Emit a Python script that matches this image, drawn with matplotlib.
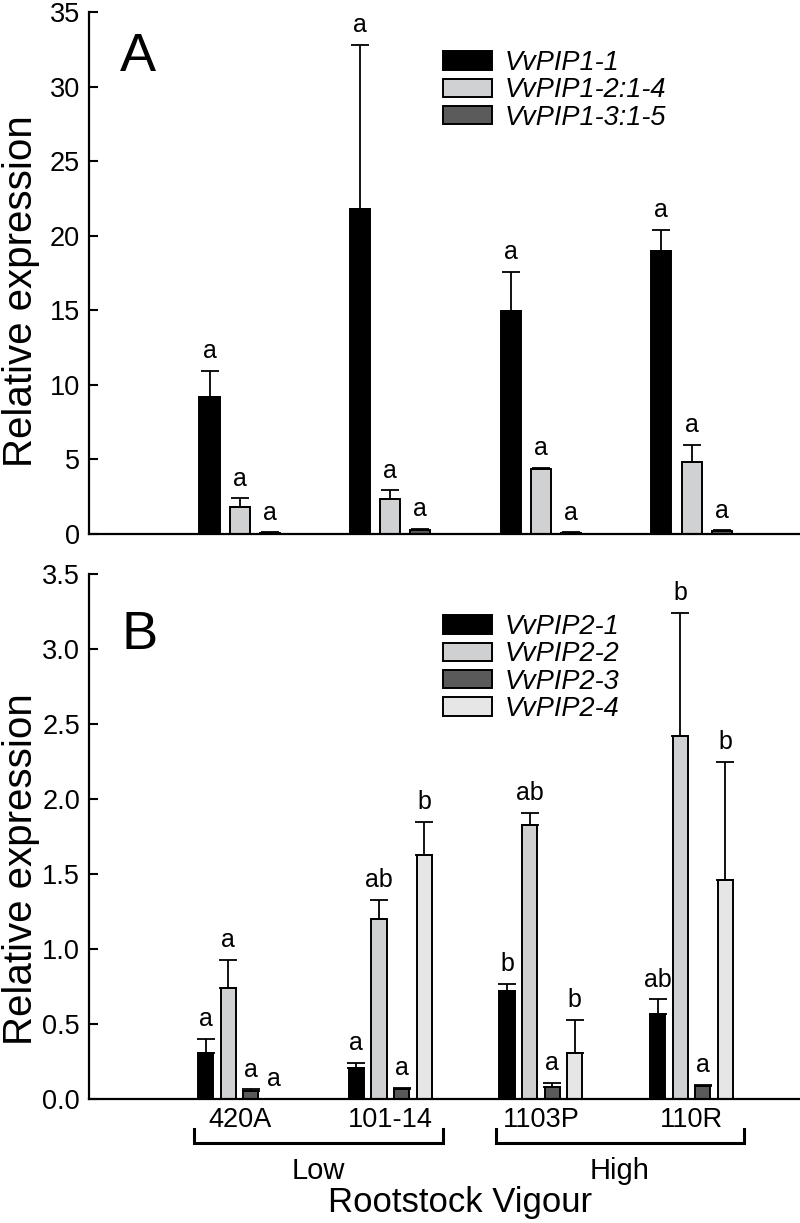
import matplotlib
matplotlib.use('Agg')
import matplotlib.pyplot as plt
import numpy as np
from matplotlib.patches import Patch
from matplotlib.ticker import FormatStrFormatter, MultipleLocator
import matplotlib.transforms as mtransforms

plt.rcParams['font.family'] = ['Liberation Sans', 'DejaVu Sans']

# ---------------- data ----------------
rootstocks = ['420A', '101-14', '1103P', '110R']
vigour_labels = ['Low', 'High']
vigour_members = [[0, 1], [2, 3]]

pip1_genes = ['VvPIP1-1', 'VvPIP1-2:1-4', 'VvPIP1-3:1-5']
pip1_mean = [
    [9.2, 21.8, 14.95, 19.0],
    [1.8, 2.35, 4.35, 4.8],
    [0.10, 0.30, 0.10, 0.20],
]
pip1_err = [
    [1.75, 11.0, 2.65, 1.4],
    [0.6, 0.6, 0.1, 1.2],
    [0.03, 0.05, 0.03, 0.05],
]
pip1_letters = [
    ['a', 'a', 'a', 'a'],
    ['a', 'a', 'a', 'a'],
    ['a', 'a', 'a', 'a'],
]

pip2_genes = ['VvPIP2-1', 'VvPIP2-2', 'VvPIP2-3', 'VvPIP2-4']
pip2_mean = [
    [0.305, 0.21, 0.72, 0.565],
    [0.74, 1.20, 1.83, 2.42],
    [0.055, 0.07, 0.082, 0.089],
    [0.0, 1.63, 0.31, 1.46],
]
pip2_err = [
    [0.095, 0.03, 0.047, 0.10],
    [0.19, 0.13, 0.08, 0.82],
    [0.01, 0.005, 0.028, 0.005],
    [0.0, 0.22, 0.22, 0.79],
]
pip2_letters = [
    ['a', 'a', 'b', 'ab'],
    ['a', 'ab', 'ab', 'b'],
    ['a', 'a', 'a', 'a'],
    ['a', 'b', 'b', 'b'],
]

# ---------------- styles ----------------
pip1_colors = ['#000000', '#d0d1d3', '#5b5b5b']
pip2_colors = ['#000000', '#cfd0d2', '#5a5a5a', '#e6e6e6']

W, H = 800, 1223
fig = plt.figure(figsize=(W / 100, H / 100), dpi=100)

def fx(px):
    return px / W

def fy(py):
    return 1 - py / H

axA = fig.add_axes([fx(89), fy(534), fx(800) - fx(89), fy(12) - fy(534)])
axB = fig.add_axes([fx(89), fy(1099), fx(800) - fx(89), fy(574) - fy(1099)])

xpos = np.arange(1, len(rootstocks) + 1)

def draw_panel(ax, means, errs, letters, colors, width, step, ymax, ystep, fmt):
    n = len(means)
    offsets = (np.arange(n) - (n - 1) / 2) * step
    for i in range(n):
        m = np.array(means[i])
        e = np.array(errs[i])
        xs = xpos + offsets[i]
        ax.bar(xs, m, width, color=colors[i], edgecolor='black', linewidth=1.4, zorder=2)
        mask = e > 0
        ax.errorbar(xs[mask], m[mask], yerr=[np.zeros(mask.sum()), e[mask]], fmt='none',
                    ecolor='black', elinewidth=1.3, capsize=6.2, capthick=1.3, zorder=3)
        for x, v, ee, lab in zip(xs, m, e, letters[i]):
            ax.annotate(lab, xy=(x, v + ee), xytext=(0, 9), textcoords='offset points',
                        ha='center', va='baseline', fontsize=18)
    ax.set_xlim(0, 4.72)
    ax.set_ylim(0, ymax)
    ax.yaxis.set_major_locator(MultipleLocator(ystep))
    ax.yaxis.set_major_formatter(FormatStrFormatter(fmt))
    for s in ['top', 'right']:
        ax.spines[s].set_visible(False)
    for s in ['left', 'bottom']:
        ax.spines[s].set_linewidth(1.6)
    ax.tick_params(axis='y', direction='in', length=6.5, width=1.5, pad=6.5, labelsize=19.5)
    ax.tick_params(axis='x', length=0, pad=5.5, labelsize=19.5)
    ax.set_ylabel('Relative expression', fontsize=29)

draw_panel(axA, pip1_mean, pip1_err, pip1_letters, pip1_colors, 0.133, 0.2, 35, 5, '%d')
draw_panel(axB, pip2_mean, pip2_err, pip2_letters, pip2_colors, 0.1, 0.15, 3.5, 0.5, '%.1f')

axA.set_xticks([])
axB.set_xticks(xpos)
axB.set_xticklabels(rootstocks)

axA.yaxis.set_label_coords(-0.069, 0.466)
axB.yaxis.set_label_coords(-0.069, 0.438)

# panel letters
axA.text(0.0436, 0.887, 'A', transform=axA.transAxes, fontsize=39, va='baseline', ha='left')
axB.text(0.0464, 0.857, 'B', transform=axB.transAxes, fontsize=39, va='baseline', ha='left')

# legends
def make_legend(ax, genes, colors, anchor):
    handles = [Patch(facecolor=c, edgecolor='black', linewidth=1.4) for c in colors]
    leg = ax.legend(handles, genes, loc='upper left', bbox_to_anchor=anchor,
                    bbox_transform=fig.transFigure, frameon=False, borderpad=0,
                    borderaxespad=0, handlelength=1.81, handleheight=0.667,
                    handletextpad=0.48, labelspacing=0.05,
                    prop={'style': 'italic', 'size': 19.5})
    return leg

make_legend(axA, pip1_genes, pip1_colors, (fx(443), fy(50)))
make_legend(axB, pip2_genes, pip2_colors, (fx(443), fy(614)))

# brackets for vigour groups
trans = mtransforms.blended_transform_factory(axB.transData, axB.transAxes)
for lab, members in zip(vigour_labels, vigour_members):
    x0 = xpos[members[0]] - 0.30
    x1 = xpos[members[-1]] + 0.35
    axB.plot([x0, x0, x1, x1], [-0.057, -0.0838, -0.0838, -0.057], color='black',
             lw=2.2, transform=trans, clip_on=False, solid_joinstyle='miter')
    axB.text((x0 + x1) / 2, -0.152, lab, transform=trans, ha='center', va='baseline', fontsize=21)

axB.text(0.522, -0.215, 'Rootstock Vigour', transform=axB.transAxes, ha='center',
         va='baseline', fontsize=25)

fig.savefig('out.png', dpi=100)
